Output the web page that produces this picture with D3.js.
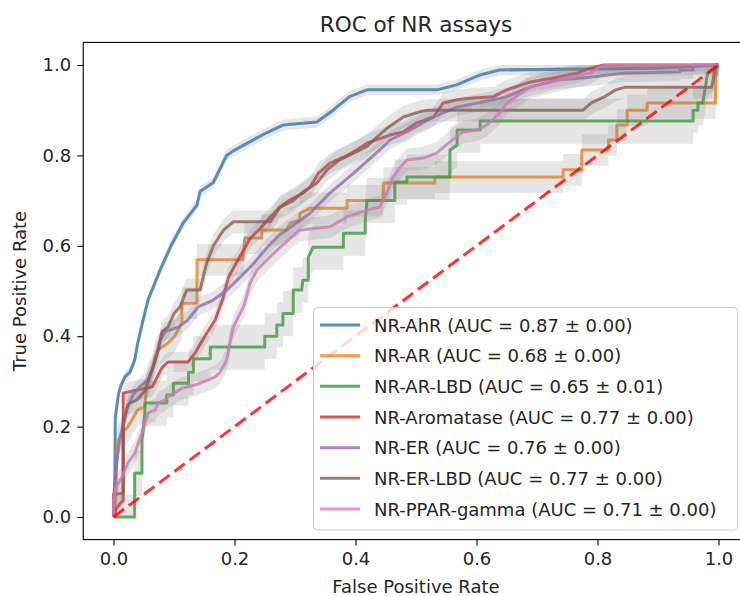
<!DOCTYPE html>
<html>
<head>
<meta charset="utf-8">
<script src="https://cdn.jsdelivr.net/npm/d3@7"></script>
<style>
  html, body { margin: 0; padding: 0; background: #fff; }
  svg { display: block; font-family: "DejaVu Sans", sans-serif; }
</style>
</head>
<body>
<svg id="chart" width="740" height="596"></svg>
<script>
// ---------- data (FPR, TPR) ----------
const seriesNames = ["NR-AhR", "NR-AR", "NR-AR-LBD", "NR-Aromatase", "NR-ER", "NR-ER-LBD", "NR-PPAR-gamma"];
const aucMeans = ["0.87", "0.68", "0.65", "0.77", "0.76", "0.77", "0.71"];
const aucStds  = ["0.00", "0.00", "0.01", "0.00", "0.00", "0.00", "0.00"];
const tprStd   = [0.012, 0.035, 0.05, 0.022, 0.02, 0.025, 0.025];

const rocAhR = [[0,0],[0.002,0.05],[0.003,0.22],[0.008,0.27],[0.012,0.29],[0.019,0.31],[0.027,0.32],[0.035,0.347],[0.04,0.385],[0.049,0.436],[0.057,0.48],[0.077,0.546],[0.095,0.6],[0.115,0.65],[0.138,0.69],[0.143,0.72],[0.165,0.74],[0.187,0.80],[0.198,0.81],[0.225,0.83],[0.253,0.85],[0.28,0.867],[0.336,0.874],[0.363,0.90],[0.39,0.93],[0.419,0.945],[0.535,0.945],[0.567,0.956],[0.606,0.978],[0.638,0.989],[0.9,0.993],[1,1]];
const rocAR = [[0,0],[0.004,0.05],[0.006,0.164],[0.014,0.186],[0.024,0.2],[0.04,0.237],[0.052,0.244],[0.055,0.296],[0.064,0.325],[0.069,0.354],[0.074,0.37],[0.09,0.385],[0.101,0.40],[0.113,0.43],[0.113,0.473],[0.138,0.473],[0.138,0.569],[0.214,0.569],[0.217,0.617],[0.245,0.617],[0.245,0.635],[0.286,0.635],[0.292,0.65],[0.308,0.657],[0.308,0.672],[0.325,0.683],[0.386,0.683],[0.386,0.70],[0.446,0.70],[0.446,0.739],[0.531,0.739],[0.531,0.752],[0.743,0.752],[0.743,0.768],[0.774,0.768],[0.774,0.812],[0.818,0.812],[0.818,0.834],[0.832,0.834],[0.832,0.867],[0.849,0.867],[0.849,0.90],[0.882,0.90],[0.882,0.916],[0.995,0.916],[0.995,1],[1,1]];
const rocARLBD = [[0,0],[0.035,0],[0.035,0.097],[0.047,0.097],[0.047,0.17],[0.052,0.23],[0.052,0.252],[0.088,0.252],[0.088,0.27],[0.099,0.27],[0.099,0.296],[0.124,0.296],[0.124,0.32],[0.132,0.32],[0.132,0.35],[0.16,0.35],[0.16,0.376],[0.25,0.376],[0.25,0.40],[0.27,0.40],[0.27,0.425],[0.28,0.425],[0.28,0.45],[0.297,0.45],[0.297,0.502],[0.311,0.502],[0.313,0.524],[0.322,0.524],[0.322,0.575],[0.33,0.597],[0.38,0.597],[0.38,0.628],[0.416,0.628],[0.416,0.653],[0.419,0.70],[0.465,0.70],[0.465,0.741],[0.485,0.741],[0.485,0.752],[0.556,0.752],[0.556,0.812],[0.568,0.823],[0.568,0.856],[0.606,0.856],[0.606,0.876],[0.958,0.876],[0.958,0.90],[0.966,0.90],[0.966,0.916],[0.974,0.916],[0.982,0.982],[0.99,0.99],[1,1]];
const rocAromatase = [[0,0],[0.005,0.02],[0.016,0.037],[0.016,0.274],[0.035,0.28],[0.064,0.288],[0.08,0.33],[0.09,0.343],[0.123,0.343],[0.135,0.363],[0.151,0.40],[0.168,0.436],[0.18,0.48],[0.19,0.53],[0.2,0.555],[0.215,0.59],[0.225,0.615],[0.24,0.635],[0.26,0.665],[0.275,0.686],[0.29,0.70],[0.314,0.717],[0.325,0.73],[0.339,0.761],[0.358,0.783],[0.38,0.796],[0.402,0.812],[0.419,0.827],[0.457,0.845],[0.479,0.852],[0.501,0.872],[0.529,0.885],[0.545,0.916],[0.568,0.923],[0.594,0.927],[0.628,0.93],[0.65,0.945],[0.688,0.962],[0.733,0.973],[0.766,0.982],[0.788,0.993],[0.81,1],[1,1]];
const rocER = [[0,0],[0,0.04],[0.004,0.104],[0.01,0.17],[0.022,0.237],[0.032,0.27],[0.045,0.29],[0.057,0.303],[0.069,0.347],[0.077,0.39],[0.085,0.41],[0.107,0.42],[0.123,0.436],[0.14,0.465],[0.165,0.48],[0.187,0.502],[0.209,0.53],[0.231,0.56],[0.253,0.595],[0.275,0.625],[0.286,0.635],[0.325,0.672],[0.358,0.717],[0.397,0.761],[0.44,0.812],[0.457,0.834],[0.49,0.856],[0.529,0.885],[0.568,0.907],[0.611,0.918],[0.65,0.93],[0.688,0.951],[0.733,0.967],[0.788,0.973],[0.843,0.982],[0.936,0.985],[0.936,0.989],[0.958,0.989],[0.958,1],[1,1]];
const rocERLBD = [[0,0],[0,0.05],[0.016,0.053],[0.016,0.208],[0.024,0.25],[0.04,0.26],[0.052,0.28],[0.064,0.325],[0.074,0.37],[0.08,0.41],[0.09,0.42],[0.1,0.45],[0.11,0.465],[0.121,0.502],[0.143,0.502],[0.154,0.562],[0.165,0.6],[0.182,0.635],[0.198,0.653],[0.259,0.653],[0.275,0.685],[0.297,0.70],[0.314,0.72],[0.336,0.739],[0.353,0.768],[0.374,0.79],[0.397,0.805],[0.419,0.82],[0.435,0.84],[0.452,0.86],[0.479,0.885],[0.507,0.897],[0.52,0.90],[0.776,0.90],[0.79,0.916],[0.812,0.93],[0.83,0.945],[0.846,0.951],[0.989,0.951],[0.992,0.975],[0.995,1],[1,1]];
const rocPPAR = [[0,0],[0,0.037],[0.004,0.066],[0.014,0.088],[0.024,0.12],[0.035,0.141],[0.047,0.186],[0.052,0.208],[0.057,0.23],[0.069,0.237],[0.074,0.252],[0.085,0.259],[0.09,0.266],[0.1,0.274],[0.113,0.285],[0.135,0.292],[0.156,0.303],[0.168,0.31],[0.176,0.32],[0.187,0.347],[0.193,0.39],[0.198,0.42],[0.209,0.45],[0.215,0.465],[0.226,0.518],[0.237,0.546],[0.253,0.568],[0.27,0.59],[0.289,0.613],[0.308,0.635],[0.358,0.642],[0.386,0.664],[0.419,0.679],[0.44,0.686],[0.452,0.717],[0.462,0.752],[0.474,0.774],[0.485,0.79],[0.512,0.794],[0.534,0.805],[0.556,0.83],[0.578,0.852],[0.6,0.856],[0.617,0.867],[0.639,0.894],[0.65,0.916],[0.666,0.93],[0.688,0.951],[0.722,0.962],[0.755,0.973],[0.788,0.982],[0.804,0.996],[0.816,1],[1,1]];

const rocCurves = [rocAhR, rocAR, rocARLBD, rocAromatase, rocER, rocERLBD, rocPPAR];
const colors = ["#1f77b4", "#ff7f0e", "#2ca02c", "#d62728", "#9467bd", "#8c564b", "#e377c2"];
const tickValues = [0, 0.2, 0.4, 0.6, 0.8, 1.0];
const chanceLine = [[0, 0], [1, 1]];

// ---------- layout ----------
const svg = d3.select("#chart");
const x = d3.scaleLinear().domain([-0.05, 1.05]).range([83.25, 748.75]);
const y = d3.scaleLinear().domain([-0.05, 1.05]).range([539.6, 42.4]);

svg.append("defs").append("clipPath").attr("id", "clip")
  .append("rect").attr("x", x(-0.05)).attr("y", y(1.05))
  .attr("width", x(1.05) - x(-0.05)).attr("height", y(-0.05) - y(1.05));

const plot = svg.append("g").attr("clip-path", "url(#clip)");

const line = d3.line().x(d => x(d[0])).y(d => y(d[1]));

rocCurves.forEach((pts, i) => {
  const s = tprStd[i];
  const area = d3.area()
    .x(d => x(d[0]))
    .y0(d => y(Math.max(0, d[1] - s)))
    .y1(d => y(Math.min(1, d[1] + s)));
  plot.append("path").datum(pts)
    .attr("d", line)
    .attr("fill", "none")
    .attr("stroke", colors[i])
    .attr("stroke-opacity", 0.8)
    .attr("stroke-width", 3)
    .attr("stroke-linejoin", "round");
  plot.append("path").datum(pts)
    .attr("d", area)
    .attr("fill", "#808080")
    .attr("fill-opacity", 0.2);
});

plot.append("path").datum(chanceLine)
  .attr("d", line)
  .attr("fill", "none")
  .attr("stroke", "#ff0000")
  .attr("stroke-opacity", 0.8)
  .attr("stroke-width", 3)
  .attr("stroke-dasharray", "13,6");

// ---------- axes ----------
const xAxis = d3.axisBottom(x).tickValues(tickValues).tickFormat(d3.format(".1f")).tickSize(6).tickPadding(7);
const yAxis = d3.axisLeft(y).tickValues(tickValues).tickFormat(d3.format(".1f")).tickSize(6).tickPadding(6);

const gx = svg.append("g").attr("transform", `translate(0,${y(-0.05)})`).call(xAxis);
const gy = svg.append("g").attr("transform", `translate(${x(-0.05)},0)`).call(yAxis);
[gx, gy].forEach(g => {
  g.select(".domain").remove();
  g.selectAll("text").attr("font-size", 18).attr("fill", "#262626").attr("font-family", "DejaVu Sans, sans-serif");
  g.selectAll("line").attr("stroke", "#000").attr("stroke-width", 1.1);
});

// frame
svg.append("rect")
  .attr("x", x(-0.05)).attr("y", y(1.05))
  .attr("width", x(1.05) - x(-0.05)).attr("height", y(-0.05) - y(1.05))
  .attr("fill", "none").attr("stroke", "#000").attr("stroke-width", 1.1);

// labels
svg.append("text").attr("x", 416).attr("y", 31.5).attr("text-anchor", "middle")
  .attr("font-size", 21.6).attr("fill", "#262626").text("ROC of NR assays");
svg.append("text").attr("x", 416).attr("y", 593).attr("text-anchor", "middle")
  .attr("font-size", 18).attr("fill", "#262626").text("False Positive Rate");
svg.append("text").attr("transform", "translate(26,291) rotate(-90)").attr("text-anchor", "middle")
  .attr("font-size", 18).attr("fill", "#262626").text("True Positive Rate");

// ---------- legend ----------
const lg = svg.append("g");
lg.append("rect").attr("x", 313.5).attr("y", 307.5).attr("width", 424).attr("height", 222.5)
  .attr("rx", 4).attr("ry", 4)
  .attr("fill", "#fff").attr("fill-opacity", 0.8)
  .attr("stroke", "#cccccc").attr("stroke-width", 1);
seriesNames.forEach((name, i) => {
  const cy = 325 + i * 30.67;
  lg.append("line").attr("x1", 320).attr("x2", 360).attr("y1", cy).attr("y2", cy)
    .attr("stroke", colors[i]).attr("stroke-opacity", 0.8).attr("stroke-width", 3);
  lg.append("text").attr("x", 374).attr("y", cy + 6.8)
    .attr("font-size", 18).attr("fill", "#262626")
    .text(`${name} (AUC = ${aucMeans[i]} \u00b1 ${aucStds[i]})`);
});
</script>
</body>
</html>
